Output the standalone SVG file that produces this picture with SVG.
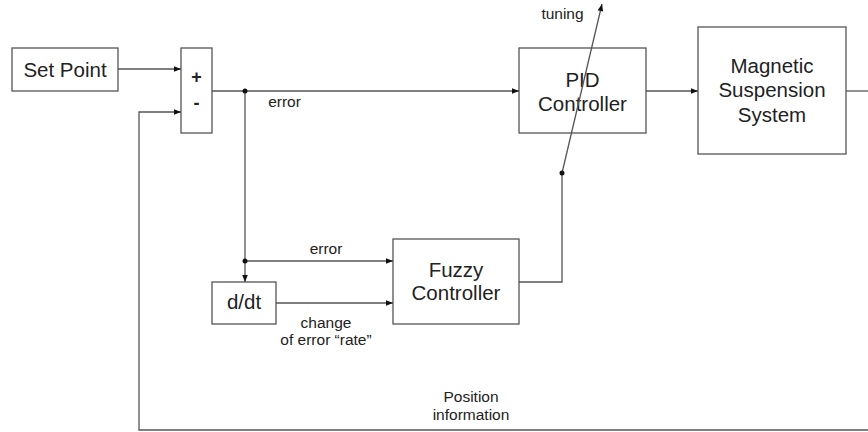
<svg xmlns="http://www.w3.org/2000/svg" width="868" height="432" viewBox="0 0 868 432">
<defs>
<marker id="arr" viewBox="0 0 10 10" refX="10" refY="5" markerWidth="9" markerHeight="7" markerUnits="userSpaceOnUse" orient="auto">
<path d="M0,1 L10,5 L0,9 z" fill="#111"/>
</marker>
<style>
.box{fill:#fff;stroke:#555;stroke-width:1.3}
.ln{fill:none;stroke:#555;stroke-width:1.3}
.big{font-family:"Liberation Sans",Arial,sans-serif;font-size:20.5px;fill:#222;text-anchor:middle}
.sm{font-family:"Liberation Sans",Arial,sans-serif;font-size:15.5px;fill:#222;text-anchor:middle}
.sign{font-family:"Liberation Sans",Arial,sans-serif;font-size:18px;font-weight:bold;fill:#222;text-anchor:middle}
.dot{fill:#111}
</style>
</defs>
<rect width="868" height="432" fill="#fff"/>
<g id="setpoint">
<rect class="box" x="12" y="48" width="106" height="43"/>
<text class="big" x="65" y="77">Set Point</text>
</g>
<g id="sum">
<rect class="box" x="181" y="48" width="31" height="85"/>
<text class="sign" x="196.5" y="83">+</text>
<text class="sign" x="196.5" y="109">-</text>
</g>
<g id="pid">
<rect class="box" x="519" y="48" width="127" height="85"/>
<text class="big" x="582.5" y="87">PID</text>
<text class="big" x="582.5" y="111">Controller</text>
</g>
<g id="mss">
<rect class="box" x="698" y="27" width="148" height="127"/>
<text class="big" x="772" y="73">Magnetic</text>
<text class="big" x="772" y="97">Suspension</text>
<text class="big" x="772" y="122">System</text>
</g>
<g id="fuzzy">
<rect class="box" x="393" y="239" width="126" height="85"/>
<text class="big" x="456" y="277">Fuzzy</text>
<text class="big" x="456" y="300">Controller</text>
</g>
<g id="ddt">
<rect class="box" x="212" y="282" width="64" height="42"/>
<text class="big" x="244" y="309">d/dt</text>
</g>
<g id="connectors">
<path class="ln" d="M118,69 H181" marker-end="url(#arr)"/>
<path class="ln" d="M212,91 H519" marker-end="url(#arr)"/>
<path class="ln" d="M646,91 H698" marker-end="url(#arr)"/>
<path class="ln" d="M846,91 H868"/>
<path class="ln" d="M868,430 H139 V112 H181" marker-end="url(#arr)"/>
<path class="ln" d="M245,91 V282" marker-end="url(#arr)"/>
<path class="ln" d="M245,261 H393" marker-end="url(#arr)"/>
<path class="ln" d="M276,303 H393" marker-end="url(#arr)"/>
<path class="ln" d="M519,282 H562 V173"/>
<path class="ln" d="M562,173 L602,4" marker-end="url(#arr)"/>
<circle class="dot" cx="245" cy="91" r="2.5"/>
<circle class="dot" cx="245" cy="261" r="2.5"/>
<circle class="dot" cx="562" cy="173" r="2.5"/>
<text class="sm" x="284.5" y="107">error</text>
<text class="sm" x="326" y="254">error</text>
<text class="sm" x="326" y="328">change</text>
<text class="sm" x="326" y="345">of error “rate”</text>
<text class="sm" x="562.5" y="19">tuning</text>
<text class="sm" x="471" y="402">Position</text>
<text class="sm" x="471" y="420">information</text>
</g>
</svg>
